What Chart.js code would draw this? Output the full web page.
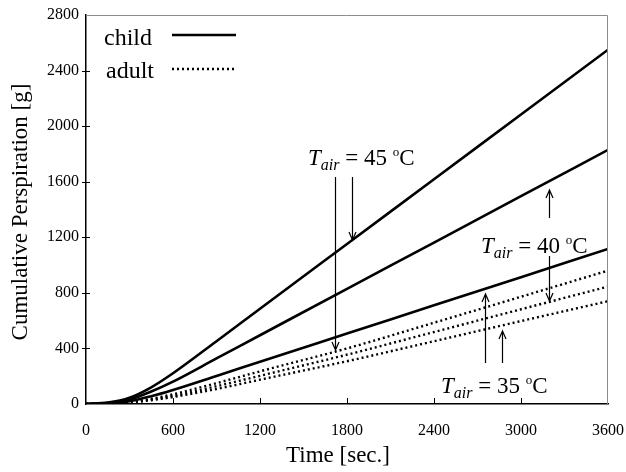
<!DOCTYPE html>
<html>
<head>
<meta charset="utf-8">
<script src="https://cdn.jsdelivr.net/npm/chart.js@4/dist/chart.umd.min.js"></script>
<style>
  html, body { margin: 0; padding: 0; background: #fff; }
</style>
</head>
<body>
<canvas id="chart" width="626" height="472"></canvas>
<script>
const SERIF = '"Liberation Serif", "Times New Roman", Times, serif';

// time axis [sec.] and cumulative perspiration [g]
const times   = [0, 150, 300, 450, 600, 900, 1200, 1800, 2400, 3000, 3600];
const child45 = [0, 10, 45, 120, 221, 452, 686, 1152, 1618, 2084, 2550];
const child40 = [0, 7, 32, 90, 161, 328, 495, 829, 1162, 1496, 1829];
const child35 = [0, 4, 20, 56, 101, 202, 304, 507, 710, 913, 1116];
const adult45 = [0, 3, 15, 38, 70, 150, 235, 400, 585, 772, 960];
const adult40 = [0, 2, 12, 32, 58, 128, 203, 355, 518, 682, 845];
const adult35 = [0, 2, 10, 27, 50, 108, 175, 308, 452, 597, 740];

const xTicks = [0, 600, 1200, 1800, 2400, 3000, 3600];
const yTicks = [0, 400, 800, 1200, 1600, 2000, 2400, 2800];

// labels + arrows, in data units (time, grams)
const tempLabels = [
  { temp: 45, t: 1531, g: 1720 },
  { temp: 40, t: 2724, g: 1087 },
  { temp: 35, t: 2448, g: 79 },
];
const arrows = [
  { t: 1717, from: 1634, to: 389 },
  { t: 1834, from: 1634, to: 1180 },
  { t: 3193, from: 1339, to: 1540 },
  { t: 3193, from: 1065, to: 741 },
  { t: 2752, from: 295, to: 792 },
  { t: 2869, from: 295, to: 525 },
];

const pts = (vals) => vals.map((v, i) => ({ x: times[i], y: v }));

const SOLID = [];
const DOTS = [2, 3];

function series(vals, dash) {
  return {
    data: pts(vals),
    borderColor: '#000',
    borderWidth: dash.length ? 2.4 : 2.6,
    borderDash: dash,
    pointRadius: 0,
    fill: false,
    cubicInterpolationMode: 'monotone',
  };
}

function drawTair(ctx, x, y, temp) {
  const big = 23, sub = 16, sup = 13;
  ctx.fillStyle = '#000';
  ctx.textAlign = 'left';
  ctx.textBaseline = 'alphabetic';
  ctx.font = `italic ${big}px ${SERIF}`;
  ctx.fillText('T', x, y);
  x += ctx.measureText('T').width;
  ctx.font = `italic ${sub}px ${SERIF}`;
  ctx.fillText('air', x, y + 5);
  x += ctx.measureText('air').width;
  ctx.font = `${big}px ${SERIF}`;
  const mid = ' = ' + temp + ' ';
  ctx.fillText(mid, x, y);
  x += ctx.measureText(mid).width;
  ctx.font = `${sup}px ${SERIF}`;
  ctx.fillText('o', x, y - 9);
  x += ctx.measureText('o').width;
  ctx.font = `${big}px ${SERIF}`;
  ctx.fillText('C', x, y);
}

function drawArrow(ctx, x, y0, y1) {
  const dir = y1 > y0 ? 1 : -1;
  ctx.beginPath();
  ctx.moveTo(x, y0);
  ctx.lineTo(x, y1);
  ctx.moveTo(x - 3.5, y1 - dir * 8);
  ctx.lineTo(x, y1);
  ctx.lineTo(x + 3.5, y1 - dir * 8);
  ctx.stroke();
}

const decor = {
  id: 'decor',
  afterDraw(chart) {
    const { ctx, chartArea: a, scales: { x, y } } = chart;
    ctx.save();

    // grey top/right frame
    ctx.strokeStyle = '#8c8c8c';
    ctx.lineWidth = 1;
    ctx.beginPath();
    ctx.moveTo(a.left, a.top + 0.5);
    ctx.lineTo(a.right - 0.5, a.top + 0.5);
    ctx.lineTo(a.right - 0.5, a.bottom);
    ctx.stroke();

    // tick marks: x inward, y across the axis
    ctx.strokeStyle = '#000';
    ctx.beginPath();
    xTicks.slice(1, -1).forEach(v => {
      const px = Math.round(x.getPixelForValue(v)) + 0.5;
      ctx.moveTo(px, a.bottom);
      ctx.lineTo(px, a.bottom - 6);
    });
    yTicks.slice(1, -1).forEach(v => {
      const py = Math.round(y.getPixelForValue(v)) + 0.5;
      ctx.moveTo(a.left - 4, py);
      ctx.lineTo(a.left + 4, py);
    });
    ctx.stroke();

    // axis titles
    ctx.fillStyle = '#000';
    ctx.font = `23px ${SERIF}`;
    ctx.textAlign = 'center';
    ctx.textBaseline = 'middle';
    ctx.fillText('Time [sec.]', 338, 456);
    ctx.save();
    ctx.translate(21, 212);
    ctx.rotate(-Math.PI / 2);
    ctx.fillText('Cumulative Perspiration [g]', 0, 0);
    ctx.restore();

    // legend
    ctx.textAlign = 'left';
    ctx.textBaseline = 'alphabetic';
    ctx.font = `24px ${SERIF}`;
    ctx.fillText('child', 104, 45);
    ctx.fillText('adult', 106, 78);
    ctx.lineWidth = 2.6;
    ctx.beginPath();
    ctx.moveTo(172, 35);
    ctx.lineTo(236, 35);
    ctx.stroke();
    ctx.lineWidth = 2.4;
    ctx.setLineDash(DOTS);
    ctx.beginPath();
    ctx.moveTo(172, 69);
    ctx.lineTo(236, 69);
    ctx.stroke();
    ctx.setLineDash([]);

    // temperature labels and arrows
    tempLabels.forEach(l => drawTair(ctx, x.getPixelForValue(l.t), y.getPixelForValue(l.g), l.temp));
    ctx.lineWidth = 1.2;
    arrows.forEach(r => {
      drawArrow(ctx, Math.round(x.getPixelForValue(r.t)) + 0.5, y.getPixelForValue(r.from), y.getPixelForValue(r.to));
    });

    ctx.restore();
  },
};

const tickFont = { family: SERIF, size: 16 };

new Chart(document.getElementById('chart'), {
  type: 'line',
  data: {
    datasets: [
      series(child45, SOLID),
      series(child40, SOLID),
      series(child35, SOLID),
      series(adult45, DOTS),
      series(adult40, DOTS),
      series(adult35, DOTS),
    ],
  },
  options: {
    responsive: false,
    devicePixelRatio: 1,
    animation: false,
    layout: { padding: { top: 15, right: 0, left: 0, bottom: 0 } },
    plugins: { legend: { display: false }, tooltip: { enabled: false } },
    scales: {
      x: {
        type: 'linear',
        min: 0,
        max: 3600,
        grid: { display: false, drawTicks: false },
        border: { color: '#000', width: 1.5 },
        ticks: { color: '#000', font: tickFont, padding: 17, maxRotation: 0, callback: (v) => String(v) },
        afterBuildTicks: (s) => { s.ticks = xTicks.map(v => ({ value: v })); },
        afterFit: (s) => { s.height = 68; s.paddingLeft = 0; s.paddingRight = 18; },
      },
      y: {
        min: 0,
        max: 2800,
        grid: { display: false, drawTicks: false },
        border: { color: '#000', width: 1.5 },
        ticks: { color: '#000', font: tickFont, padding: 7, callback: (v) => String(v) },
        afterBuildTicks: (s) => { s.ticks = yTicks.map(v => ({ value: v })); },
        afterFit: (s) => { s.width = 86; s.paddingTop = 0; s.paddingBottom = 0; },
      },
    },
  },
  plugins: [decor],
});
</script>
</body>
</html>
